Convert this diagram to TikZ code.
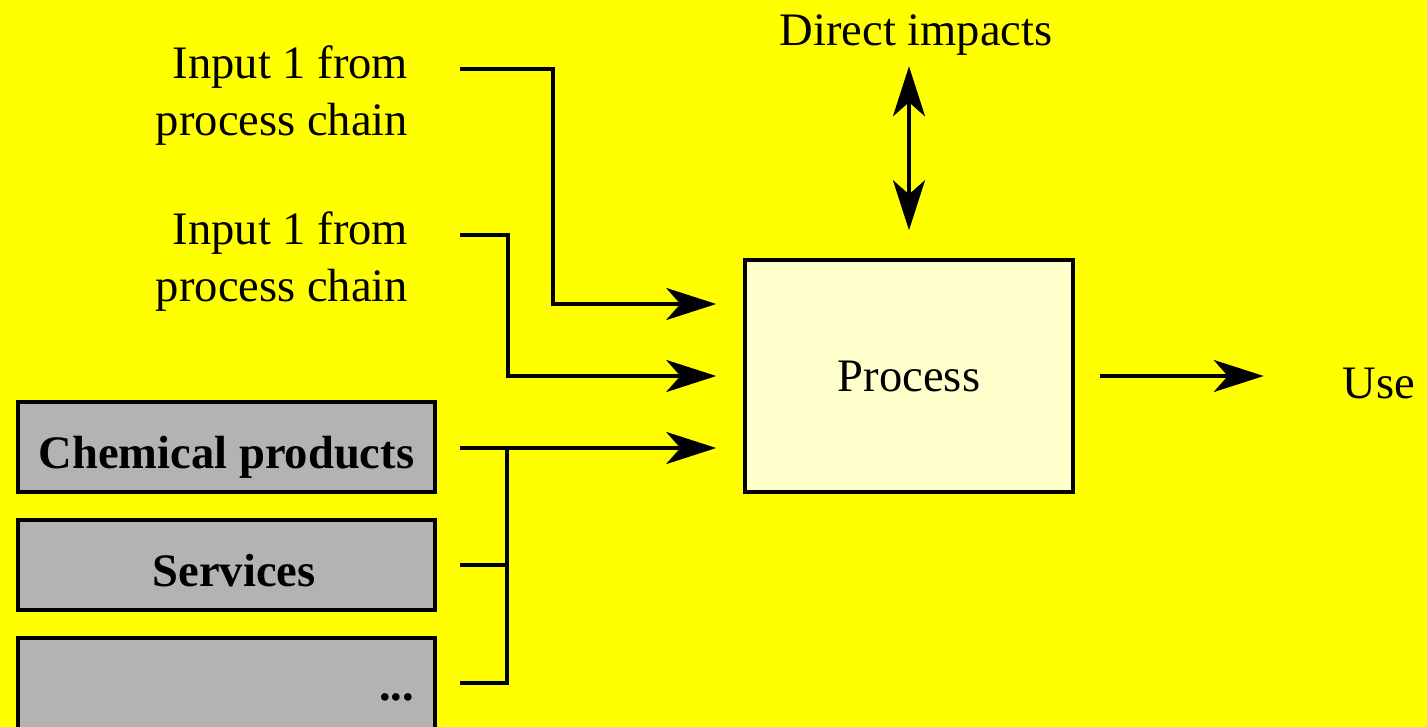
\documentclass[tikz,border=0pt]{standalone}
\usepackage{fontspec}
\setmainfont{Liberation Serif}
\usetikzlibrary{arrows.meta,calc}

\definecolor{bgyellow}{RGB}{255,255,0}
\definecolor{boxyellow}{RGB}{255,255,204}
\definecolor{itemgray}{RGB}{179,179,179}

\begin{document}
\begin{tikzpicture}[x=0.02cm, y=-0.02cm, line width=2.2pt,
    big/.style={font=\fontsize{26.5}{32.4}\selectfont, inner sep=0pt},
    process box/.style={draw, line width=2pt, fill=boxyellow, minimum width=6.56cm, minimum height=4.64cm, big},
    item box/.style={draw, line width=2pt, fill=itemgray, minimum width=8.34cm, minimum height=1.8cm, text height=0.84cm, text depth=0pt, font=\fontsize{26.5}{32.4}\selectfont\bfseries},
    flow/.style={-{Stealth[length=1cm, width=0.64cm, inset=0.28cm]}},
    twoway/.style={{Stealth[length=1cm, width=0.64cm, inset=0.28cm]}-{Stealth[length=1cm, width=0.64cm, inset=0.28cm]}}]

    % Background
    \useasboundingbox (0,0) rectangle (1427,727);
    \fill[bgyellow] (0,0) rectangle (1427,727);

    % Process and its outputs
    \node[process box] (proc) at (909,376) {Process};
    \node[big] (impact) at (916,35) {Direct impacts};
    \node[big, anchor=west] (use) at (1341,383) {Use};

    \draw[twoway] ($(proc.north)+(0,-28)$) -- ($(proc.north)+(0,-192)$);
    \draw[flow] ($(proc.east)+(25,0)$) -- ($(proc.east)+(189,0)$);

    % Inputs from the process chain
    \node[big, anchor=east, align=right] (in1) at (410,96) {Input 1 from\\process chain};
    \node[big, anchor=east, align=right] (in2) at (410,262) {Input 1 from\\process chain};

    % Items from the background system
    \node[item box] (chem) at (226.5,447) {Chemical products};
    \node[item box] (serv) at (226.5,565) {\hspace{0.3cm}Services};
    \node[item box, minimum height=2.2cm] (more) at (226.5,693) {};
    \node[big, font=\fontsize{26.5}{32.4}\selectfont\bfseries, anchor=east] (dots) at (416,697) {...};

    % Line starts and entry points at the process
    \coordinate (s1) at (460,69);
    \coordinate (s2) at (460,235);
    \coordinate (s3) at (460,448);
    \coordinate (s4) at (460,565);
    \coordinate (s5) at (460,683);
    \coordinate (e1) at ($(proc.west)+(-27,-72)$);
    \coordinate (e2) at ($(proc.west)+(-27,0)$);
    \coordinate (e3) at ($(proc.west)+(-27,72)$);
    \coordinate (j) at (507,448);

    \draw[flow] (s1) -- ++(93,0) |- (e1);
    \draw[flow] (s2) -- ++(48,0) |- (e2);
    \draw[flow] (s3) -- (e3);
    \draw (s4) -- (s4 -| j);
    \draw (s5) -| (j);

\end{tikzpicture}
\end{document}
